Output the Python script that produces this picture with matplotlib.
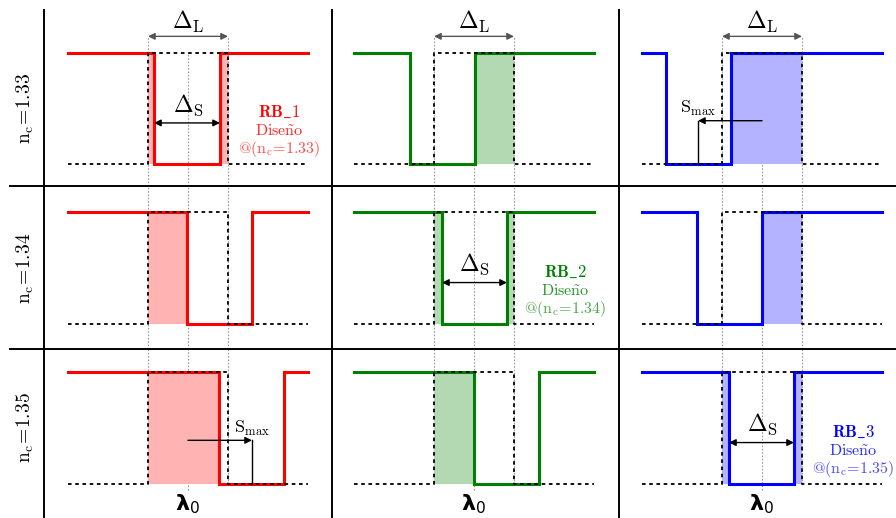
import matplotlib
matplotlib.use("Agg")
import matplotlib.pyplot as plt
from matplotlib.lines import Line2D
from matplotlib.patches import FancyArrowPatch
import numpy as np

plt.rcParams['mathtext.fontset'] = 'cm'
plt.rcParams['font.family'] = ['DejaVu Serif']

# ---------------- data ----------------
nc_rows = ["1.33", "1.34", "1.35"]          # row labels (n_c)
designs = ["RB\\_1", "RB\\_2", "RB\\_3"]      # design names per column
design_nc = ["1.33", "1.34", "1.35"]
colors = ["#ff0000", "#008000", "#0000ff"]
fills = ["#ffb3b3", "#b3d9b3", "#b3b3ff"]
# stop-band edges (relative to lambda0, arbitrary units) per column, per row
well_left = [[-34, -1, 31], [-64, -32, 0], [-96, -65, -33]]
well_right = [[32, 64, 96], [1, 33, 65], [-31, 0, 32]]
design_band = [-40, 40]      # Delta_L edges
span = [-120, 120]           # extent of the spectra
smax = [64, None, -64]       # S_max per column (shown in one row)
smax_row = [2, None, 0]
ds_row = [0, 1, 2]           # row in which Delta_S is annotated (design row)

# ---------------- layout (pixels) ----------------
W, H = 896, 518
col_px = [(44, 332), (332, 619), (619, 896)]
row_px = [(0, 186), (186, 349), (349, 518)]
lam0_px = [188, 474, 762]
low_px = [164, 324, 484]
high_px = [53, 212, 372]

fig = plt.figure(figsize=(W / 100, H / 100), dpi=100)

def fx(x):
    return x / W

def fy(y):
    return 1 - y / H

# separators
sep_kw = dict(color="black", lw=1.4)
fig.add_artist(Line2D([fx(10), fx(W)], [fy(186), fy(186)], **sep_kw))
fig.add_artist(Line2D([fx(10), fx(W)], [fy(349), fy(349)], **sep_kw))
for xv in (44, 332, 619):
    fig.add_artist(Line2D([fx(xv), fx(xv)], [fy(10), fy(H)], **sep_kw))

for c in range(3):
    for r in range(3):
        L, R = col_px[c]
        T, B = row_px[r]
        ax = fig.add_axes([fx(L), fy(B), (R - L) / W, (B - T) / H])
        ax.set_axis_off()
        s = low_px[r] - high_px[r]
        ax.set_xlim(L - lam0_px[c], R - lam0_px[c])
        ylo = -(B - low_px[r]) / s
        yhi = 1 + (high_px[r] - T) / s
        ax.set_ylim(ylo, yhi)

        dl, dr = design_band
        wl, wr = well_left[c][r], well_right[c][r]

        # guide lines
        gkw = dict(color="#9a9a9a", lw=0.8, ls=(0, (1.5, 1.5)), clip_on=False, zorder=1)
        if r == 0:
            top_out, top_mid = 1.15, 1.0
            bot_out, bot_mid = ylo, ylo
        elif r == 1:
            top_out, top_mid = yhi, yhi
            bot_out, bot_mid = ylo, ylo
        else:
            top_out, top_mid = yhi, yhi
            bot_out, bot_mid = 0, -0.05
        ax.plot([dl, dl], [bot_out, top_out], **gkw)
        ax.plot([dr, dr], [bot_out, top_out], **gkw)
        ax.plot([0, 0], [bot_mid, top_mid], **gkw)

        # fill between design band and stop band
        if wl > dl:
            ax.fill_between([dl, min(wl, dr)], 0, 1, color=fills[c], lw=0, zorder=2)
        if wr < dr:
            ax.fill_between([max(wr, dl), dr], 0, 1, color=fills[c], lw=0, zorder=2)

        # design (dotted black)
        ax.plot([span[0], dl, dl, dr, dr, span[1]], [0, 0, 1, 1, 0, 0],
                color="black", lw=1.3, ls=(0, (2, 2)), zorder=4)
        # measured spectrum
        ax.plot([span[0], wl, wl, wr, wr, span[1]], [1, 1, 0, 0, 1, 1],
                color=colors[c], lw=2.2, zorder=3, solid_joinstyle="miter")

        # Delta_L annotation
        if r == 0:
            ax.add_patch(FancyArrowPatch((dl, 1.15), (dr, 1.15), arrowstyle="<|-|>",
                                         mutation_scale=10, color="#555555", lw=1.0,
                                         shrinkA=0, shrinkB=0, clip_on=False))
            ax.text(0, 1.28, r"$\Delta_\mathrm{L}$", ha="center", va="center",
                    fontsize=17, clip_on=False)
        # Delta_S annotation
        if r == ds_row[c]:
            ay = 0.37
            ax.add_patch(FancyArrowPatch((wl, ay), (wr, ay), arrowstyle="<|-|>",
                                         mutation_scale=10, color="black", lw=1.0,
                                         shrinkA=0, shrinkB=0, zorder=5))
            ax.text(0, 0.53, r"$\Delta_\mathrm{S}$", ha="center", va="center",
                    fontsize=17, zorder=5)
            # design label
            tx = 91
            ax.text(tx, 0.465, r"$\mathbf{" + designs[c] + "}$", ha="center", va="center",
                    fontsize=12, color=colors[c], clip_on=False)
            ax.text(tx, 0.30, r"$\mathrm{Dise\tilde{n}o}$", ha="center", va="center",
                    fontsize=11.5, color=colors[c], alpha=0.85, clip_on=False)
            ax.text(tx, 0.135, r"$\mathrm{@(n_c\!=\!" + design_nc[c] + r")}$",
                    ha="center", va="center", fontsize=11.5, color=colors[c],
                    alpha=0.7, clip_on=False)
        # S_max annotation
        if smax[c] is not None and r == smax_row[c]:
            ay = 0.39
            ax.add_patch(FancyArrowPatch((0, ay), (smax[c], ay), arrowstyle="-|>",
                                         mutation_scale=10, color="black", lw=1.0,
                                         shrinkA=0, shrinkB=0, zorder=5))
            ax.plot([smax[c], smax[c]], [0, ay], color="black", lw=1.0, zorder=5)
            ax.text(smax[c], 0.5, r"$\mathrm{S_{max}}$", ha="center", va="center",
                    fontsize=13, zorder=5)

        # row labels
        if c == 0:
            ax.text(-(lam0_px[0] - 25), 0.5, r"$\mathrm{n_c\!=\!" + nc_rows[r] + "}$",
                    rotation=90, ha="center", va="center", fontsize=14, clip_on=False)
        # lambda0 labels
        if r == 2:
            ax.text(0, -0.18, r"$\mathbf{\lambda}_0$", ha="center", va="center",
                    fontsize=16, math_fontfamily="dejavusans", clip_on=False)

fig.savefig("out.png", dpi=100)
